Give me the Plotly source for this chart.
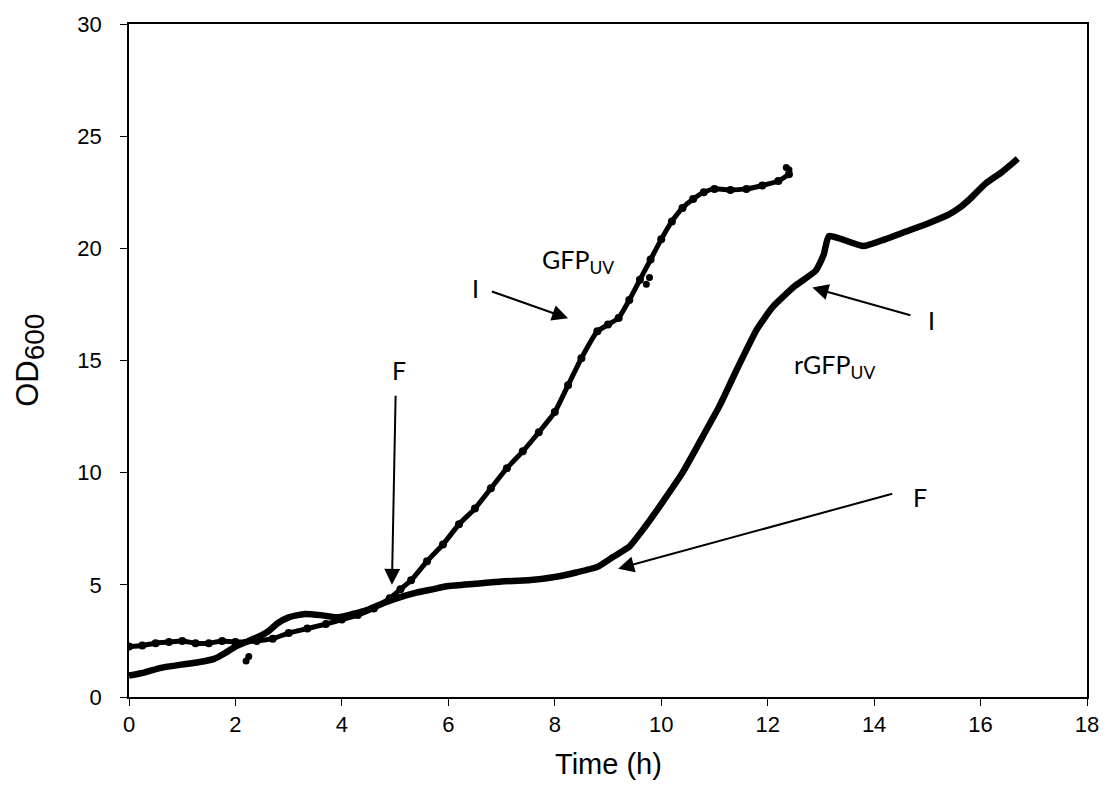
import plotly.graph_objects as go

# GFPuv (noisy series)
gfp_x = [0, 0.25, 0.5, 0.75, 1.0, 1.25, 1.5, 1.75, 2.0, 2.4, 2.7, 3.0, 3.35, 3.7, 4.0, 4.3, 4.6, 4.9,
         5.1, 5.3, 5.6, 5.9, 6.2, 6.5, 6.8, 7.1, 7.4, 7.7, 8.0, 8.25, 8.5, 8.8, 9.0, 9.2, 9.4, 9.6,
         9.8, 10.0, 10.2, 10.4, 10.6, 10.8, 11.0, 11.3, 11.6, 11.9, 12.2, 12.4]
gfp_y = [2.25, 2.3, 2.4, 2.45, 2.5, 2.4, 2.4, 2.5, 2.45, 2.5, 2.6, 2.85, 3.05, 3.25, 3.45, 3.65, 3.95, 4.4,
         4.8, 5.2, 6.05, 6.8, 7.7, 8.4, 9.3, 10.2, 10.95, 11.8, 12.7, 13.9, 15.1, 16.3, 16.6, 16.9, 17.7, 18.6,
         19.5, 20.4, 21.2, 21.8, 22.2, 22.5, 22.65, 22.6, 22.65, 22.8, 23.0, 23.3]
# scattered stray GFPuv readings
gfp_stray_x = [2.2, 2.25, 9.72, 9.78, 12.35, 12.4]
gfp_stray_y = [1.6, 1.8, 18.4, 18.7, 23.6, 23.5]

# rGFPuv (smooth series)
rgfp_x = [0, 0.3, 0.6, 1.0, 1.3, 1.6, 1.8, 2.0, 2.2, 2.4, 2.6, 2.8, 3.0, 3.3, 3.6, 3.9, 4.2, 4.5, 4.8,
          5.1, 5.4, 5.7, 6.0, 6.5, 7.0, 7.5, 8.0, 8.4, 8.8, 9.1, 9.4, 9.7, 10.0, 10.4, 10.8, 11.1, 11.4,
          11.8, 12.1, 12.5, 12.9, 13.05, 13.15, 13.4, 13.8, 14.2, 14.6, 15.0, 15.4, 15.6, 15.8, 16.1, 16.4, 16.7]
rgfp_y = [0.95, 1.1, 1.3, 1.45, 1.55, 1.7, 1.95, 2.25, 2.45, 2.65, 2.9, 3.3, 3.55, 3.7, 3.65, 3.55, 3.7, 3.9, 4.2,
          4.45, 4.65, 4.8, 4.95, 5.05, 5.15, 5.2, 5.35, 5.55, 5.8, 6.25, 6.7, 7.6, 8.6, 10.0, 11.7, 13.0, 14.5,
          16.4, 17.4, 18.3, 19.0, 19.7, 20.55, 20.4, 20.1, 20.4, 20.75, 21.1, 21.5, 21.8, 22.2, 22.9, 23.4, 24.0]

x_ticks = [0, 2, 4, 6, 8, 10, 12, 14, 16, 18]
y_ticks = [0, 5, 10, 15, 20, 25, 30]

# labels: (text, x, y)
labels = [("GFP<sub>UV</sub>", 8.44, 19.45), ("I", 6.51, 18.25), ("F", 5.07, 14.58),
          ("rGFP<sub>UV</sub>", 13.25, 14.75), ("I", 15.08, 16.8), ("F", 14.86, 8.9)]
# arrows: (tail_x, tail_y, tip_x, tip_y)
arrows = [(6.79, 18.1, 8.25, 16.88), (5.01, 13.5, 4.94, 5.0),
          (14.71, 17.0, 12.84, 18.25), (14.37, 9.08, 9.19, 5.72)]

fig = go.Figure()
fig.add_trace(go.Scatter(x=rgfp_x, y=rgfp_y, mode="lines",
                         line=dict(color="black", width=6.5, shape="spline", smoothing=0.5),
                         showlegend=False, hoverinfo="skip"))
fig.add_trace(go.Scatter(x=gfp_x, y=gfp_y, mode="lines+markers",
                         line=dict(color="black", width=5, shape="spline", smoothing=0.5),
                         marker=dict(color="black", size=8), showlegend=False, hoverinfo="skip"))
fig.add_trace(go.Scatter(x=gfp_stray_x, y=gfp_stray_y, mode="markers",
                         marker=dict(color="black", size=7), showlegend=False, hoverinfo="skip"))

for t, x, y in labels:
    fig.add_annotation(x=x, y=y, xref="x", yref="y", text=t, showarrow=False,
                       font=dict(family="Lato", size=25, color="black"))
for tx, ty, hx, hy in arrows:
    fig.add_annotation(x=hx, y=hy, xref="x", yref="y", ax=tx, ay=ty, axref="x", ayref="y",
                       text="", showarrow=True, arrowhead=2, arrowsize=1.6, arrowwidth=2,
                       arrowcolor="black", standoff=0)

fig.add_annotation(x=-0.103, y=0.5, xref="paper", yref="paper",
                   text="OD<sub><span style='font-size:28px'>600</span></sub>",
                   textangle=-90, showarrow=False, xanchor="center", yanchor="middle",
                   font=dict(family="Liberation Sans", size=31, color="black"))
fig.add_annotation(x=0.5, y=-0.1, xref="paper", yref="paper", text="Time (h)",
                   showarrow=False, xanchor="center", yanchor="middle",
                   font=dict(family="Liberation Sans", size=29, color="black"))

axis_common = dict(showgrid=False, zeroline=False, showline=True, linecolor="black", linewidth=1.5,
                   mirror=True, ticks="outside", ticklen=7, tickwidth=1, tickcolor="black",
                   tickfont=dict(family="Liberation Sans", size=22, color="black"))
fig.update_xaxes(range=[0, 18], tickvals=x_ticks, ticklabelstandoff=0, **axis_common)
fig.update_yaxes(range=[0, 30], tickvals=y_ticks, ticklabelstandoff=14, **axis_common)

fig.update_layout(width=1111, height=811, margin=dict(l=129, r=20, t=20, b=114),
                  plot_bgcolor="white", paper_bgcolor="white")

fig.write_html("out.html")
